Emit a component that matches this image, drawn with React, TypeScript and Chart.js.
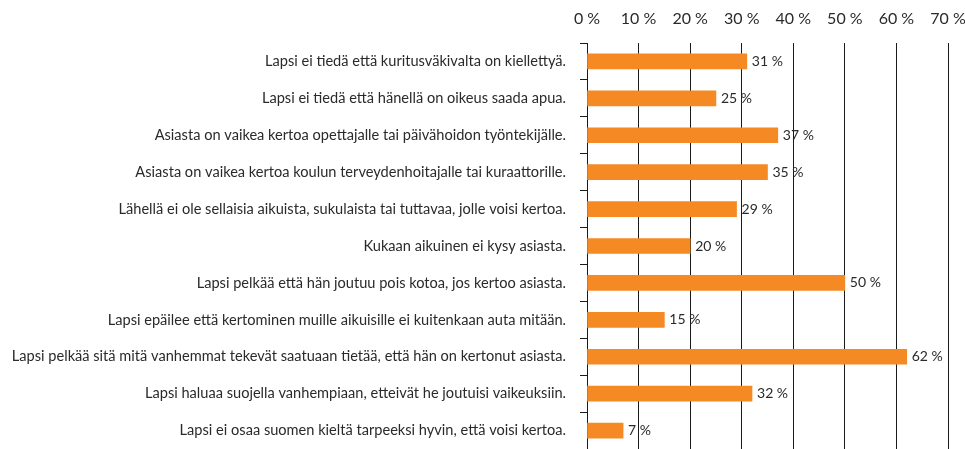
import React, { useEffect, useRef } from "react";
import { Chart, registerables } from "chart.js";

Chart.register(...registerables);

const categories = [
  "Lapsi ei tiedä että kuritusväkivalta on kiellettyä.",
  "Lapsi ei tiedä että hänellä on oikeus saada apua.",
  "Asiasta on vaikea kertoa opettajalle tai päivähoidon työntekijälle.",
  "Asiasta on vaikea kertoa koulun terveydenhoitajalle tai kuraattorille.",
  "Lähellä ei ole sellaisia aikuista, sukulaista tai tuttavaa, jolle voisi kertoa.",
  "Kukaan aikuinen ei kysy asiasta.",
  "Lapsi pelkää että hän joutuu pois kotoa, jos kertoo asiasta.",
  "Lapsi epäilee että kertominen muille aikuisille ei kuitenkaan auta mitään.",
  "Lapsi pelkää sitä mitä vanhemmat tekevät saatuaan tietää, että hän on kertonut asiasta.",
  "Lapsi haluaa suojella vanhempiaan, etteivät he joutuisi vaikeuksiin.",
  "Lapsi ei osaa suomen kieltä tarpeeksi hyvin, että voisi kertoa.",
];

const values = [31, 25, 37, 35, 29, 20, 50, 15, 62, 32, 7];

const FONT = "Lato, 'Open Sans', sans-serif";

const valueLabels = {
  id: "valueLabels",
  afterDatasetsDraw(chart: any) {
    const ctx = chart.ctx;
    const meta = chart.getDatasetMeta(0);
    ctx.save();
    ctx.font = `14px ${FONT}`;
    ctx.fillStyle = "#2a2a2a";
    ctx.textAlign = "left";
    ctx.textBaseline = "middle";
    meta.data.forEach((bar: any, i: number) => {
      ctx.fillText(values[i] + " %", bar.x + 5, bar.y);
    });
    ctx.restore();
  },
};

export default function App() {
  const ref = useRef<HTMLCanvasElement>(null);
  useEffect(() => {
    document.body.style.margin = "0";
    const chart = new Chart(ref.current!, {
      type: "bar",
      data: {
        labels: categories,
        datasets: [
          {
            data: values,
            backgroundColor: "#F58A25",
            barThickness: 15,
          },
        ],
      },
      options: {
        indexAxis: "y",
        responsive: false,
        animation: false,
        maintainAspectRatio: false,
        layout: { padding: { left: 0, right: 17, top: 0, bottom: 0 } },
        plugins: {
          legend: { display: false },
          tooltip: { enabled: false },
        },
        scales: {
          x: {
            position: "top",
            min: 0,
            max: 70,
            ticks: {
              stepSize: 10,
              padding: 15,
              color: "#2a2a2a",
              font: { family: FONT, size: 16 },
              callback: (v: any) => v + " %",
            },
            grid: {
              color: "#1a1a1a",
              lineWidth: 1,
              drawTicks: false,
            },
            border: { display: false },
            afterFit: (scale: any) => {
              scale.height = 43;
              scale.paddingLeft = 0;
              scale.paddingRight = 0;
            },
          },
          y: {
            ticks: {
              padding: 14,
              color: "#2a2a2a",
              font: { family: FONT, size: 14.6 },
            },
            grid: {
              display: true,
              drawOnChartArea: false,
              drawTicks: true,
              tickLength: 7,
              color: "#1a1a1a",
              offset: true,
            },
            border: { display: true, color: "#1a1a1a", width: 1 },
            afterFit: (scale: any) => {
              scale.width = 587;
              scale.paddingTop = 0;
              scale.paddingBottom = 0;
            },
          },
        },
      },
      plugins: [valueLabels],
    });
    return () => chart.destroy();
  }, []);
  return (
    <div style={{ position: "fixed", left: 0, top: 0, width: 965, height: 449 }}>
      <canvas ref={ref} width={965} height={449} style={{ width: 965, height: 449 }} />
    </div>
  );
}
